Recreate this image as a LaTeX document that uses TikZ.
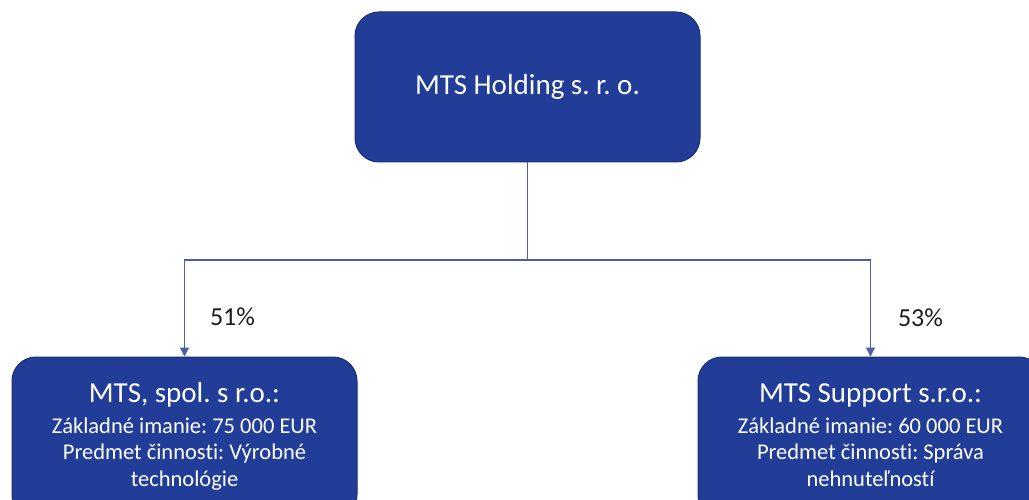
\documentclass[tikz,border=0pt]{standalone}
\usepackage{fontspec}
\setmainfont{Carlito}[Ligatures=NoCommon]
\usetikzlibrary{arrows.meta}
\definecolor{boxfill}{HTML}{213D98}
\definecolor{boxline}{HTML}{1B2E72}
\definecolor{connline}{HTML}{4A5EA8}
\definecolor{pcttext}{HTML}{1E1E1E}
\frenchspacing
\tikzset{
  orgbox/.style={draw=boxline, line width=1pt, fill=boxfill, rounded corners=24pt,
    text=white, align=center, inner sep=0pt},
  conn/.style={draw=connline, line width=1.1pt},
  arr/.style={conn, -{Triangle[width=9pt,length=9pt]}},
  pct/.style={text=pcttext, font=\fontsize{26}{30}\selectfont, anchor=base}
}
\begin{document}
\begin{tikzpicture}[x=1pt,y=-1pt]
\useasboundingbox (0,0) rectangle (1029,500);
\clip (0,0) rectangle (1029,500);
\fill[white] (0,0) rectangle (1029,500);

\node[orgbox, minimum width=345pt, minimum height=150pt, font=\fontsize{29}{30}\selectfont]
  (top) at (527.5,87) {MTS Holding s. r. o.};

\node[orgbox, minimum width=345pt, minimum height=162pt, font=\fontsize{22.5}{26.5}\selectfont]
  (lbox) at (184.5,438)
  {{\fontsize{29}{30}\selectfont\strut MTS, spol. s r.o.:}\\[4pt]
   Základné imanie: 75 000 EUR\\
   Predmet činnosti: Výrobné\\
   technológie\strut};

\node[orgbox, minimum width=345pt, minimum height=162pt, font=\fontsize{22.5}{26.5}\selectfont]
  (rbox) at (870.5,438)
  {{\fontsize{29}{30}\selectfont\strut MTS Support s.r.o.:}\\[4pt]
   Základné imanie: 60 000 EUR\\
   Predmet činnosti: Správa\\
   nehnuteľností\strut};

\coordinate (j) at (527.5,260);
\draw[conn] (top.south) -- (j);
\draw[arr] (j) -| (lbox.north);
\draw[arr] (j) -| (rbox.north);

\node[pct] (p51) at (232.5,325) {51\%};
\node[pct] (p53) at (920.5,326) {53\%};
\end{tikzpicture}
\end{document}
